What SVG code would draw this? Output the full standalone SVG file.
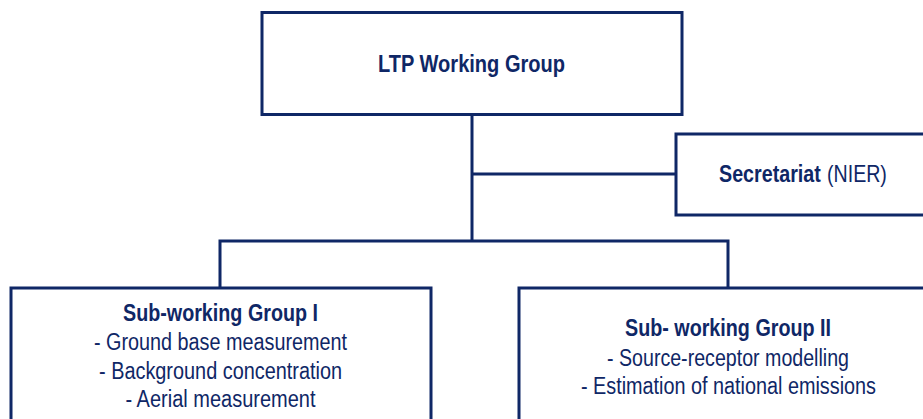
<svg xmlns="http://www.w3.org/2000/svg" width="923" height="419" viewBox="0 0 923 419">
<style>
.box{fill:#ffffff;stroke:#0f2766;stroke-width:3}
.conn{fill:none;stroke:#0f2766;stroke-width:3}
text{font-family:"Liberation Sans",Arial,sans-serif;font-size:23px;fill:#0f2766;text-anchor:middle}
.b{font-weight:bold}
.s{text-anchor:start}
</style>
<rect width="923" height="419" fill="#ffffff"/>
<g id="connectors">
<path class="conn" d="M472 114 V241"/>
<path class="conn" d="M472 174 H676"/>
<path class="conn" d="M220 288 V241 H728 V288"/>
</g>
<g id="ltp">
<rect class="box" x="262" y="12.5" width="420" height="102"/>
<text class="b" x="471.5" y="72" textLength="187" lengthAdjust="spacingAndGlyphs">LTP Working Group</text>
</g>
<g id="secretariat">
<rect class="box" x="676" y="134" width="262" height="81"/>
<text class="b s" transform="translate(719 182) scale(0.857 1)">Secretariat</text>
<text class="s" transform="translate(827 182) scale(0.853 1)">(NIER)</text>
</g>
<g id="sub1">
<rect class="box" x="11" y="288" width="420" height="150"/>
<text class="b" x="220.5" y="321" textLength="195" lengthAdjust="spacingAndGlyphs">Sub-working Group I</text>
<text x="220.5" y="350" textLength="253" lengthAdjust="spacingAndGlyphs">- Ground base measurement</text>
<text x="220.5" y="379" textLength="243" lengthAdjust="spacingAndGlyphs">- Background concentration</text>
<text x="220.5" y="407" textLength="190" lengthAdjust="spacingAndGlyphs">- Aerial measurement</text>
</g>
<g id="sub2">
<rect class="box" x="519" y="288" width="420" height="150"/>
<text class="b" x="728" y="336" textLength="206" lengthAdjust="spacingAndGlyphs">Sub- working Group II</text>
<text x="728" y="366" textLength="242" lengthAdjust="spacingAndGlyphs">- Source-receptor modelling</text>
<text x="728.5" y="394" textLength="295" lengthAdjust="spacingAndGlyphs">- Estimation of national emissions</text>
</g>
</svg>
